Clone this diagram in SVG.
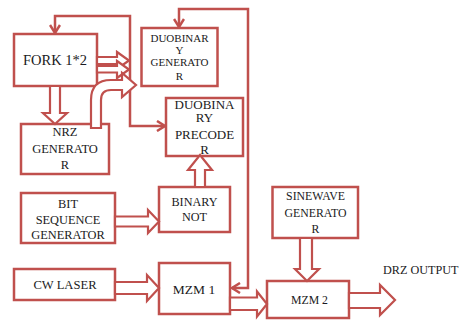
<svg xmlns="http://www.w3.org/2000/svg" width="461" height="320" viewBox="0 0 461 320">
<defs>
<style>
.box{fill:#fff;stroke:#c0504d;stroke-width:2.5}
.barr{fill:#fff;stroke:#c0504d;stroke-width:2.2;stroke-linejoin:miter}
.ln{fill:none;stroke:#c0504d;stroke-width:2.5}
.t{font-family:'Liberation Serif','DejaVu Serif',serif;fill:#1a1a22;text-anchor:middle}
</style>
<marker id="ah" markerUnits="userSpaceOnUse" viewBox="0 0 12 12" markerWidth="12" markerHeight="12" refX="10" refY="6" orient="auto-start-reverse">
<path d="M2,1 L10,6 L2,11" fill="none" stroke="#c0504d" stroke-width="2.5"/>
</marker>
</defs>
<rect width="461" height="320" fill="#fff"/>

<g id="fork">
<rect class="box" x="14" y="34" width="83" height="52"/>
<text class="t" x="55" y="65" font-size="14.5">FORK 1*2</text>
</g>
<g id="nrz">
<rect class="box" x="21" y="124" width="88" height="50"/>
<text class="t" x="65" y="136" font-size="12.5">NRZ</text>
<text class="t" x="65" y="152.5" font-size="12.5">GENERATO</text>
<text class="t" x="65" y="168.5" font-size="12.5">R</text>
</g>
<g id="duobinary-generator">
<rect class="box" x="141.5" y="28" width="76" height="58"/>
<text class="t" x="179.5" y="41.5" font-size="11">DUOBINAR</text>
<text class="t" x="179.5" y="53.5" font-size="11">Y</text>
<text class="t" x="179.5" y="66" font-size="11">GENERATO</text>
<text class="t" x="179.5" y="79.5" font-size="11">R</text>
</g>
<g id="duobinary-precoder">
<rect class="box" x="166" y="98" width="77" height="58"/>
<text class="t" x="204.5" y="108.5" font-size="13">DUOBINA</text>
<text class="t" x="204.5" y="122" font-size="13">RY</text>
<text class="t" x="204.5" y="139" font-size="13">PRECODE</text>
<text class="t" x="204.5" y="154" font-size="13">R</text>
</g>
<g id="bit-sequence-generator">
<rect class="box" x="21" y="193" width="94" height="50"/>
<text class="t" x="68" y="207.5" font-size="12.4">BIT</text>
<text class="t" x="68" y="224" font-size="12.4">SEQUENCE</text>
<text class="t" x="68" y="238.5" font-size="12.4">GENERATOR</text>
</g>
<g id="binary-not">
<rect class="box" x="159" y="187" width="71" height="45"/>
<text class="t" x="194.5" y="205.5" font-size="12.2">BINARY</text>
<text class="t" x="194.5" y="220.5" font-size="12.2">NOT</text>
</g>
<g id="cw-laser">
<rect class="box" x="14" y="269" width="101" height="31"/>
<text class="t" x="65" y="289" font-size="12.6">CW LASER</text>
</g>
<g id="mzm1">
<rect class="box" x="159" y="263" width="71" height="51"/>
<text class="t" x="194" y="293.5" font-size="13.5">MZM 1</text>
</g>
<g id="sinewave-generator">
<rect class="box" x="272.5" y="187" width="85.5" height="51"/>
<text class="t" x="315.5" y="200" font-size="11.8">SINEWAVE</text>
<text class="t" x="315.5" y="216.5" font-size="11.8">GENERATO</text>
<text class="t" x="315.5" y="233" font-size="11.8">R</text>
</g>
<g id="mzm2">
<rect class="box" x="267" y="281" width="82" height="37"/>
<text class="t" x="309.5" y="303.5" font-size="11.8">MZM 2</text>
</g>
<g id="output-label">
<text class="t" x="383" y="273.5" font-size="12.2" style="text-anchor:start">DRZ OUTPUT</text>
</g>

<g id="connectors">
<path class="ln" d="M55,33 V16 H130 V126 H165" marker-start="url(#ah)" marker-end="url(#ah)"/>
<path class="ln" d="M179,27 V9 H248 V288 H232" marker-start="url(#ah)" marker-end="url(#ah)"/>
<polygon class="barr" points="50,86 60,86 60,113 67,113 55,124 43,113 50,113"/>
<polygon class="barr" points="97,57 117,57 117,52 129,60.5 117,69 117,64 97,64"/>
<polygon class="barr" points="97,66 117,66 117,61 129,69.5 117,78 117,72.5 97,72.5"/>
<path class="barr" d="M91,128 V100 Q91,80 111,80 H122 V73 L136,85 L122,97 V90 H111 Q101,90 101,100 V128 Z"/>
<polygon class="barr" points="195,187 195,170 188,170 200,155 212,170 205,170 205,187"/>
<polygon class="barr" points="115,216.5 148,216.5 148,210 159,221.5 148,233 148,226.5 115,226.5"/>
<polygon class="barr" points="115,282 147,282 147,275 159,288 147,301 147,294 115,294"/>
<polygon class="barr" points="230,297.5 257,297.5 257,291.5 267,304 257,316.5 257,310 230,310"/>
<polygon class="barr" points="300,238 300,269 295,269 307,281 319,269 312,269 312,238"/>
<polygon class="barr" points="349,293 380,293 380,285 395,300 380,315 380,308 349,308"/>
</g>
</svg>
